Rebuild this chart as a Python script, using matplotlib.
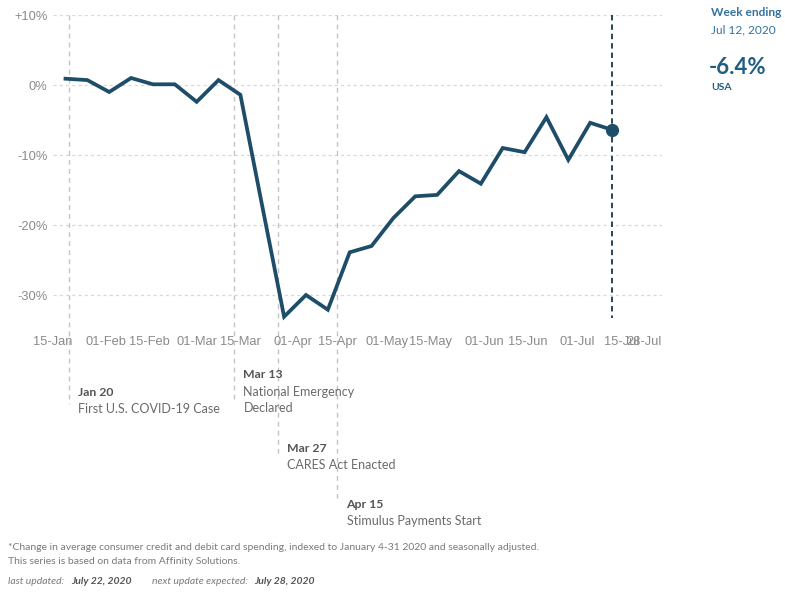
import matplotlib
matplotlib.use("Agg")
import matplotlib.pyplot as plt
import matplotlib.dates as mdates
import matplotlib.transforms as mtransforms
import numpy as np
import pandas as pd

# Weekly change in consumer card spending (%), weeks ending on Sundays
weeks = pd.date_range("2020-01-19", "2020-07-12", freq="7D")
spending = [0.9, 0.7, -1.0, 1.0, 0.1, 0.1, -2.4, 0.7, -1.4, -17.3,
            -33.1, -30.0, -32.1, -23.9, -23.0, -19.0, -15.9, -15.7,
            -12.3, -14.1, -9.0, -9.6, -4.6, -10.7, -5.4, -6.4]

tick_dates = pd.to_datetime(["2020-01-15", "2020-02-01", "2020-02-15", "2020-03-01",
                             "2020-03-15", "2020-04-01", "2020-04-15", "2020-05-01",
                             "2020-05-15", "2020-06-01", "2020-06-15", "2020-07-01",
                             "2020-07-15", "2020-07-28"])
tick_labels = ["15-Jan", "01-Feb", "15-Feb", "01-Mar", "15-Mar", "01-Apr", "15-Apr",
               "01-May", "15-May", "01-Jun", "15-Jun", "01-Jul", "15-Jul", "28-Jul"]

y_ticks = [10, 0, -10, -20, -30]
y_labels = ["+10%", "0%", "-10%", "-20%", "-30%"]

event_dates = pd.to_datetime(["2020-01-20", "2020-03-13", "2020-03-27", "2020-04-15"])
event_titles = ["Jan 20", "Mar 13", "Mar 27", "Apr 15"]
event_texts = ["First U.S. COVID-19 Case", "National Emergency\nDeclared",
               "CARES Act Enacted", "Stimulus Payments Start"]

latest_date = weeks[-1]
latest_value = spending[-1]

W, H = 785, 592
LINE = "#1d4d69"
TEXT_FONT = ["Lato", "DejaVu Sans"]
TICK_FONT = ["Liberation Sans", "DejaVu Sans"]

fig = plt.figure(figsize=(W / 100, H / 100), dpi=100)
fig.patch.set_facecolor("white")


def fy(px):
    return 1 - px / H


ax = fig.add_axes([53 / W, fy(330), (662 - 53) / W, (330 - 15) / H])
ax.set_xlim(pd.Timestamp("2020-01-15"), pd.Timestamp("2020-07-28"))
ax.set_ylim(-35, 10)

for s in ax.spines.values():
    s.set_visible(False)

# horizontal grid
for v in y_ticks:
    ax.axhline(v, color="#d8d8d8", lw=0.9, ls=(0, (2.5, 2.5)), zorder=1)

ax.set_yticks(y_ticks)
ax.set_yticklabels(y_labels, family=TICK_FONT, fontsize=9.3, color="#8a8a8a")
ax.set_xticks(tick_dates)
ax.set_xticklabels(tick_labels, family=TICK_FONT, fontsize=9.3, color="#8a8a8a")
ax.get_xticklabels()[-1].set_horizontalalignment("right")
ax.tick_params(axis="both", length=0)
ax.tick_params(axis="x", pad=4)
ax.tick_params(axis="y", pad=4)

# event markers reaching down to their notes
blend = mtransforms.blended_transform_factory(ax.transData, fig.transFigure)
off = blend + mtransforms.ScaledTranslation(0.093, 0, fig.dpi_scale_trans)
ends_px = [404, 400, 455, 498]
title_px = [392, 375, 448, 504]
for d, end, tpx, title, body in zip(event_dates, ends_px, title_px, event_titles, event_texts):
    xd = mdates.date2num(d)
    ax.plot([xd, xd], [fy(15), fy(end)], transform=blend, clip_on=False,
            color="#c4c4c4", lw=1.0, ls=(0, (3.5, 3)), zorder=1)
    fig.text(xd, fy(tpx), title, transform=off, family=TEXT_FONT, fontsize=8.8,
             fontweight="bold", color="#555555", va="center", ha="left")
    fig.text(xd, fy(tpx + 11), body, transform=off, family=TEXT_FONT, fontsize=9.0,
             color="#6a6a6a", va="top", ha="left", linespacing=1.45)

# latest-week marker line
xl = mdates.date2num(latest_date)
ax.plot([xl, xl], [fy(15), fy(318)], transform=blend, clip_on=False,
        color="#1c3547", lw=1.3, ls=(0, (3, 2.2)), zorder=2)

ax.plot(weeks, spending, color=LINE, lw=2.7, solid_joinstyle="miter", zorder=3)
ax.plot([latest_date], [latest_value], "o", color=LINE, ms=8.5, zorder=4)

# headline figures
fig.text(711 / W, fy(13), "Week ending", family=TEXT_FONT, fontsize=8.6,
         fontweight="bold", color="#3473a0", va="center", ha="left")
fig.text(711 / W, fy(30), latest_date.strftime("Jul %d, %Y"), family=TEXT_FONT, fontsize=8.6,
         color="#3473a0", va="center", ha="left")
fig.text(709 / W, fy(67), f"{latest_value:.1f}%", family=TEXT_FONT, fontsize=16,
         fontweight="bold", color="#205e84", va="center", ha="left")
fig.text(711 / W, fy(88), "USA", family=TEXT_FONT, fontsize=7.5,
         fontweight="bold", color="#205e84", va="center", ha="left")

# footnotes
FN = 7.5
fig.text(8 / W, fy(548), "*Change in average consumer credit and debit card spending, indexed to "
         "January 4-31 2020 and seasonally adjusted.", family=TEXT_FONT, fontsize=FN,
         color="#7a7a7a", va="center", ha="left")
fig.text(8 / W, fy(562), "This series is based on data from Affinity Solutions.",
         family=TEXT_FONT, fontsize=FN, color="#7a7a7a", va="center", ha="left")
fig.text(8 / W, fy(582), "last updated:", family=TEXT_FONT, fontsize=FN, style="italic",
         color="#7a7a7a", va="center", ha="left")
fig.text(71 / W, fy(582), "July 22, 2020", family=TEXT_FONT, fontsize=FN, style="italic",
         fontweight="bold", color="#555555", va="center", ha="left")
fig.text(152 / W, fy(582), "next update expected:", family=TEXT_FONT, fontsize=FN,
         style="italic", color="#7a7a7a", va="center", ha="left")
fig.text(254 / W, fy(582), "July 28, 2020", family=TEXT_FONT, fontsize=FN, style="italic",
         fontweight="bold", color="#555555", va="center", ha="left")

fig.savefig("out.png", dpi=100, facecolor="white")
